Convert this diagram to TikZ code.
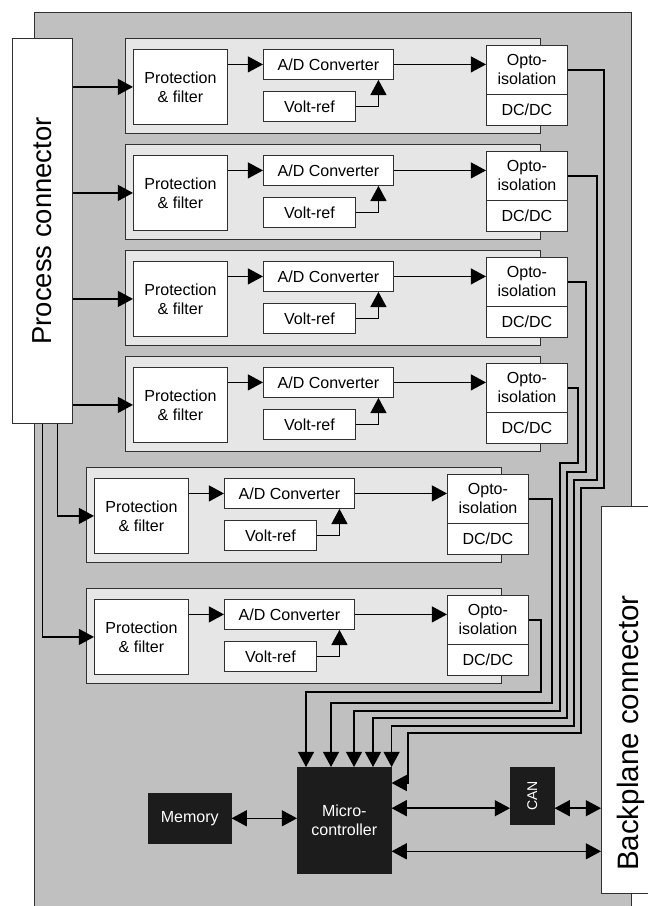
\documentclass[tikz,border=0pt]{standalone}
\usepackage{fontspec}
\setmainfont{Liberation Sans}
\usetikzlibrary{arrows.meta}

\definecolor{board}{HTML}{C0C0C0}
\definecolor{chanfill}{HTML}{E6E6E6}
\definecolor{chipfill}{HTML}{1C1C1C}
\definecolor{edgegray}{HTML}{303030}

\tikzset{
  box/.style={draw=edgegray, fill=white, line width=0.6pt, inner sep=0pt, align=center, anchor=north west,
    font=\fontsize{11.4}{13.5}\selectfont},
  chanbox/.style={draw=edgegray, fill=chanfill, line width=0.6pt, inner sep=0pt, anchor=north west},
  chip/.style={draw=chipfill, fill=chipfill, text=white, inner sep=0pt, align=center, anchor=north west,
    font=\fontsize{11.4}{13.5}\selectfont},
  conn/.style={draw=edgegray, fill=white, line width=0.6pt, inner sep=0pt, anchor=north west},
  bigtext/.style={font=\fontsize{21}{25}\selectfont},
  wire/.style={line width=1pt},
  arr/.style={wire, -{Triangle[length=0.38cm,width=0.4cm]}},
  dbl/.style={wire, {Triangle[length=0.38cm,width=0.4cm]}-{Triangle[length=0.38cm,width=0.4cm]}},
}

\begin{document}
\begin{tikzpicture}[x=0.025cm, y=-0.025cm]
\useasboundingbox (0,0) rectangle (647,906);

% board
\fill[board] (34,12) rectangle (631,906);
\draw[edgegray, line width=0.6pt] (34,906) -- (34,12) -- (631,12) -- (631,906);

% connectors
\node[conn, minimum width=1.5cm, minimum height=9.625cm] (proc) at (12,38)
  {\rotatebox{90}{\fontsize{19.5}{23}\selectfont Process connector}};
\node[conn, draw=none, minimum width=1.15cm, minimum height=9.65cm] (backplane) at (601,506) {};
\draw[edgegray, line width=0.6pt] (backplane.north east) -- (backplane.north west)
  -- (backplane.south west) -- (backplane.south east);
\node[bigtext, rotate=90] (bplabel) at (631,733) {Backplane connector};

% input channels
\foreach \i/\x/\y in {1/125/38, 2/125/144, 3/125/250, 4/125/356, 5/86/467, 6/86/588} {
  \node[chanbox, minimum width=10.375cm, minimum height=2.375cm] (blk\i) at (\x,\y) {};
  \node[box, minimum width=2.35cm, minimum height=1.875cm] (prot\i) at (\x+8,\y+11) {Protection\\\& filter};
  \node[box, minimum width=3.25cm, minimum height=0.75cm] (ad\i) at (\x+138,\y+11) {A/D Converter};
  \node[box, minimum width=2.3cm, minimum height=0.75cm] (vref\i) at (\x+138,\y+53) {Volt-ref};
  \node[box, minimum width=2.025cm, minimum height=1.225cm] (opto\i) at (\x+361,\y+7) {Opto-\\isolation};
  \node[box, minimum width=2.025cm, minimum height=0.775cm] (dcdc\i) at (\x+361,\y+56) {DC/DC};
  \draw[arr] (prot\i.east |- ad\i.west) -- (ad\i.west);
  \draw[arr] (ad\i.east) -- (ad\i.east -| opto\i.west);
  \draw[arr] (vref\i.east) -| ([xshift=1.25cm]ad\i.south);
}

% process connector to channels
\foreach \i in {1,...,4}
  \draw[arr] (proc.east |- prot\i.west) -- (prot\i.west);
\draw[arr] ([xshift=0.375cm]proc.south) |- (prot5.west);
\draw[arr] (proc.south) |- (prot6.west);

% controller side
\node[chip, minimum width=2.35cm, minimum height=2.65cm] (micro) at (297,767) {Micro-\\controller};
\node[chip, minimum width=2.075cm, minimum height=1.25cm] (memory) at (148,793) {Memory};
\node[chip, minimum width=1.1cm, minimum height=1.425cm, font=\fontsize{10}{12}\selectfont] (can) at (510,767)
  {\rotatebox{90}{CAN}};

% isolated signals to the controller
\draw[arr] (opto1.east) -| (604,488) -- (581,488) -- (581,733) -- (408,733)
  |- ([yshift=-0.4cm]micro.north east);
\draw[arr] (opto2.east) -| (597,480) -- (574,480) -- (574,726) -| (micro.north east);
\draw[arr] (opto3.east) -| (586,472) -- (567,472) -- (567,718) -| ([xshift=1.9cm]micro.north west);
\draw[arr] (opto4.east) -| (578,463) -- (560,463) -- (560,711) -| ([xshift=1.425cm]micro.north west);
\draw[arr] (opto5.east) -| (552,703) -| ([xshift=0.85cm]micro.north west);
\draw[arr] (opto6.east) -| (541,692) -| ([xshift=0.225cm]micro.north west);

\coordinate (canin) at ([yshift=-0.31cm]can.west);
\coordinate (bus) at ([yshift=-0.775cm]micro.east);
\draw[dbl] (memory.east) -- (memory.east -| micro.west);
\draw[dbl] (micro.east |- canin) -- (canin);
\draw[dbl] (can.east |- canin) -- (canin -| backplane.west);
\draw[dbl] (bus) -- (bus -| backplane.west);
\end{tikzpicture}
\end{document}
